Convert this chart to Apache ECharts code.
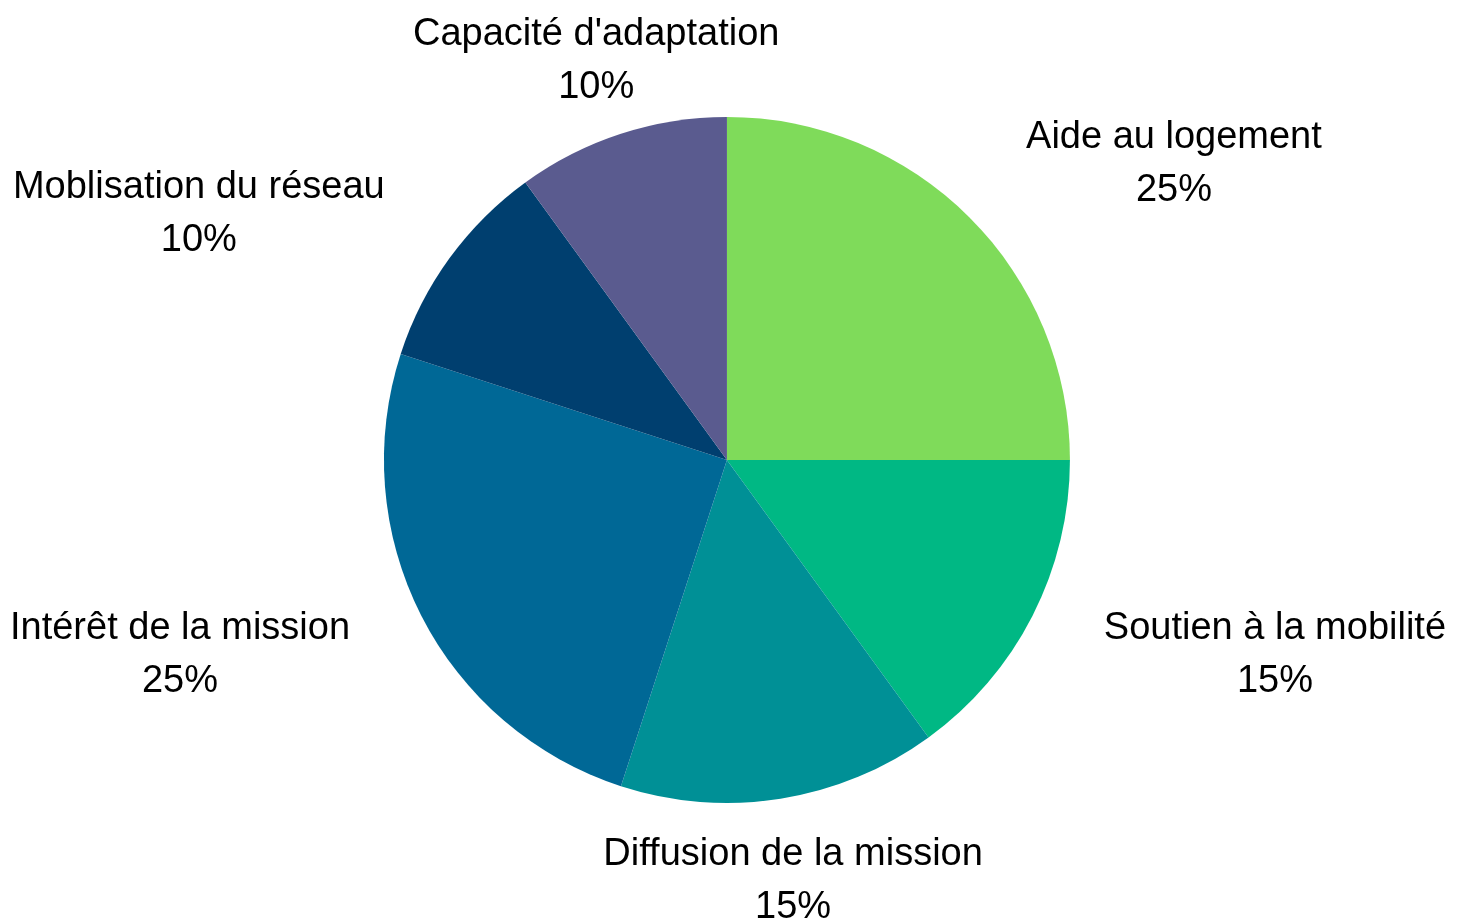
<!DOCTYPE html>
<html>
<head>
<meta charset="utf-8">
<script src="https://cdn.jsdelivr.net/npm/echarts@6/dist/echarts.min.js"></script>
<style>
html,body{margin:0;padding:0;background:#fff;}
#chart{width:1465px;height:919px;}
</style>
</head>
<body>
<div id="chart"></div>
<script>
const categories = ["Aide au logement", "Soutien à la mobilité", "Diffusion de la mission", "Intérêt de la mission", "Moblisation du réseau", "Capacité d'adaptation"];
const values = [25, 15, 15, 25, 10, 10];
const colors = ["#7fdb5a", "#00b884", "#009096", "#006896", "#003f6f", "#5a5b8f"];

const chart = echarts.init(document.getElementById('chart'), null, {renderer: 'canvas'});
const data = categories.map((c, i) => ({name: c, value: values[i], itemStyle: {color: colors[i]}}));

chart.setOption({
  animation: false,
  backgroundColor: '#ffffff',
  series: [{
    type: 'pie',
    center: ['49.62%', '50.05%'],
    radius: 343,
    startAngle: 90,
    clockwise: true,
    avoidLabelOverlap: false,
    data: data,
    itemStyle: {borderWidth: 0},
    label: {
      show: true,
      position: 'outside',
      overflow: 'none',
      bleedMargin: 0,
      formatter: p => p.name + '\n' + p.value + '%',
      color: '#000000',
      fontFamily: 'Liberation Sans, Arial, sans-serif',
      fontSize: 38,
      lineHeight: 53,
      align: 'center'
    },
    labelLine: {show: true, length: 80, length2: 0, lineStyle: {opacity: 0, width: 0}},
    labelLayout: function (params) {
      const pts = params.labelLinePoints;
      if (!pts) return {};
      const p0 = pts[0], p1 = pts[1];
      let dx = p1[0] - p0[0], dy = p1[1] - p0[1];
      const len = Math.sqrt(dx * dx + dy * dy) || 1;
      dx /= len; dy /= len;
      const w = params.labelRect ? params.labelRect.width : 0;
      let x = p1[0];
      if (dx > 0.383) x = p1[0] + w / 2;
      else if (dx < -0.383) x = p1[0] - w / 2;
      return {x: x, y: p1[1] + 3, align: 'center', verticalAlign: 'middle'};
    }
  }]
});
</script>
</body>
</html>
